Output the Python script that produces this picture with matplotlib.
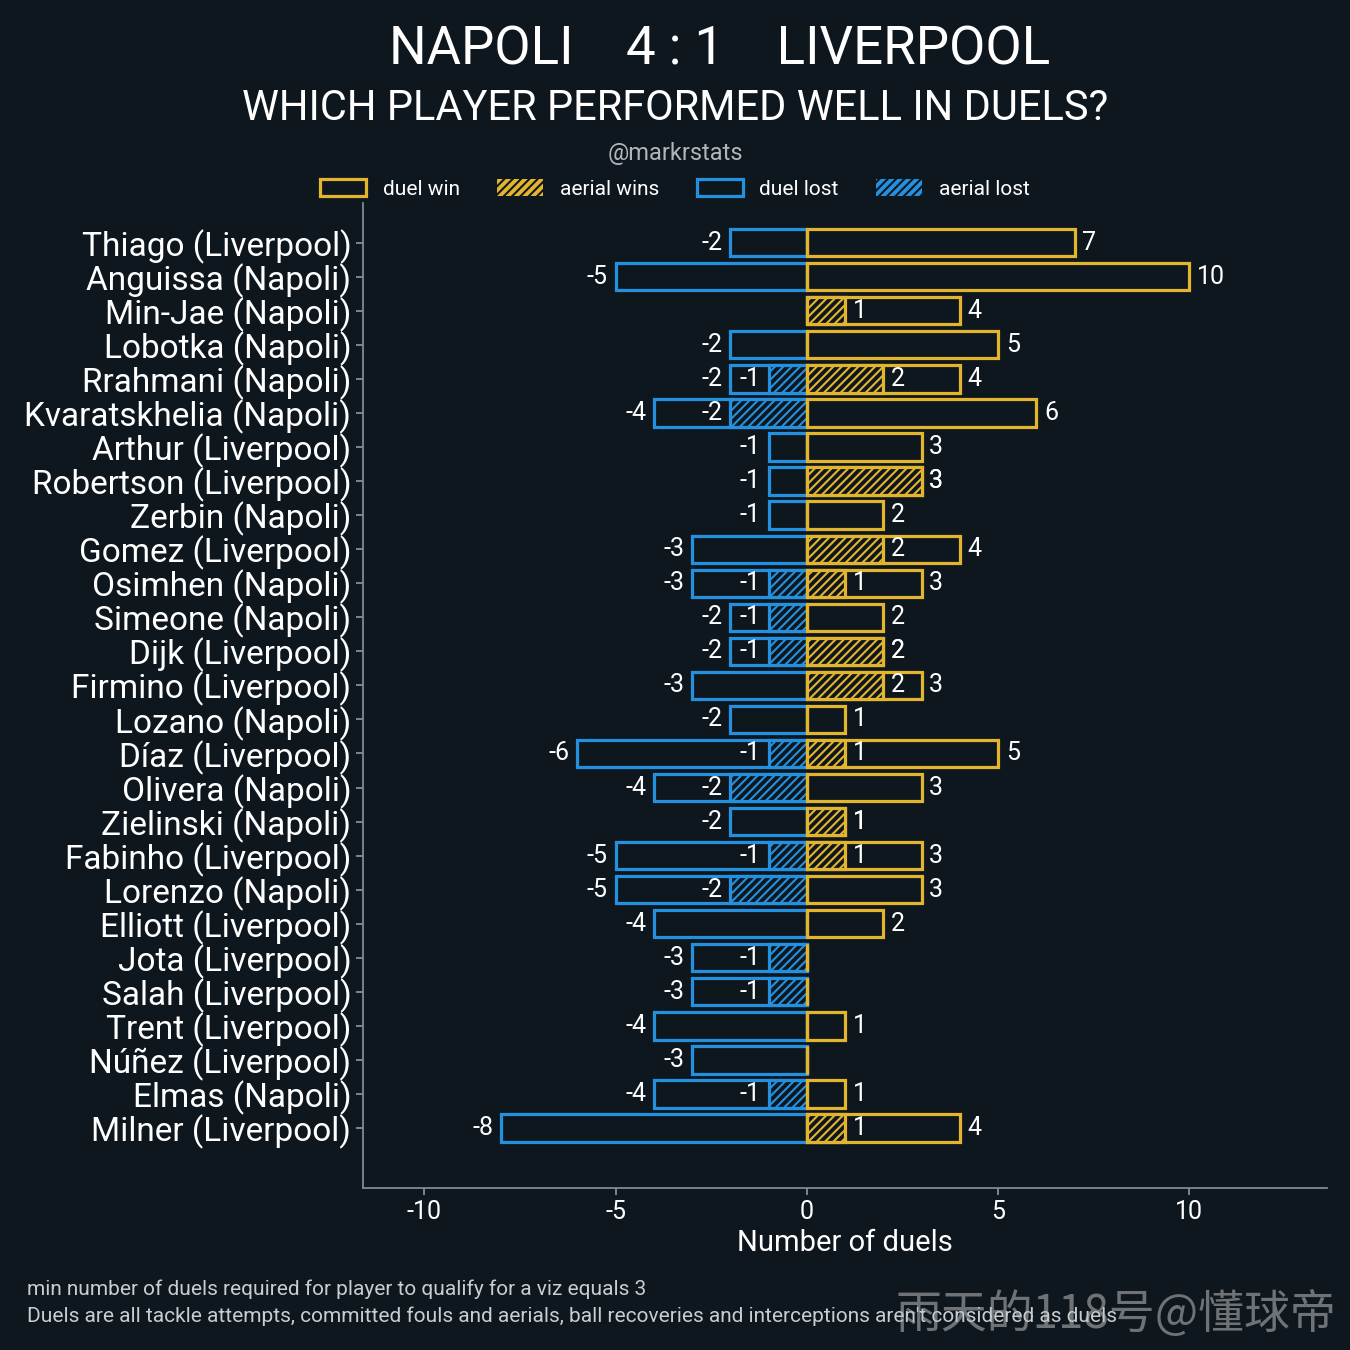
import matplotlib.pyplot as plt
from matplotlib.patches import Patch
import numpy as np

players = ['Thiago (Liverpool)', 'Anguissa (Napoli)', 'Min-Jae (Napoli)', 'Lobotka (Napoli)',
           'Rrahmani (Napoli)', 'Kvaratskhelia (Napoli)', 'Arthur (Liverpool)', 'Robertson (Liverpool)',
           'Zerbin (Napoli)', 'Gomez (Liverpool)', 'Osimhen (Napoli)', 'Simeone (Napoli)',
           'Dijk (Liverpool)', 'Firmino (Liverpool)', 'Lozano (Napoli)', 'Díaz (Liverpool)',
           'Olivera (Napoli)', 'Zielinski (Napoli)', 'Fabinho (Liverpool)', 'Lorenzo (Napoli)',
           'Elliott (Liverpool)', 'Jota (Liverpool)', 'Salah (Liverpool)', 'Trent (Liverpool)',
           'Núñez (Liverpool)', 'Elmas (Napoli)', 'Milner (Liverpool)']
duel_win = [7, 10, 4, 5, 4, 6, 3, 3, 2, 4, 3, 2, 2, 3, 1, 5, 3, 1, 3, 3, 2, 0, 0, 1, 0, 1, 4]
aerial_win = [0, 0, 1, 0, 2, 0, 0, 3, 0, 2, 1, 0, 2, 2, 0, 1, 0, 1, 1, 0, 0, 0, 0, 0, 0, 0, 1]
duel_lost = [-2, -5, 0, -2, -2, -4, -1, -1, -1, -3, -3, -2, -2, -3, -2, -6, -4, -2, -5, -5, -4, -3, -3, -4, -3, -4, -8]
aerial_lost = [0, 0, 0, 0, -1, -2, 0, 0, 0, 0, -1, -1, -1, 0, 0, -1, -2, 0, -1, -2, 0, -1, -1, 0, 0, -1, 0]
xticks = [-10, -5, 0, 5, 10]

bg = '#0f171e'
gold = '#e3b52f'
blue = '#2490e0'
plt.rcParams['font.family'] = ['Roboto', 'DejaVu Sans']
plt.rcParams['hatch.linewidth'] = 1.5

fig = plt.figure(figsize=(13.5, 13.5), dpi=100, facecolor=bg)
ax = fig.add_axes([0.269, 0.12, 0.714, 0.73], facecolor=bg)
y = np.arange(len(players))
h = 0.8
lw = 2.3

ax.barh(y, duel_lost, height=h, facecolor=bg, edgecolor=blue, linewidth=lw)
ax.barh(y, aerial_lost, height=h, facecolor=bg, edgecolor=blue, linewidth=lw, hatch='////')
ax.barh(y, duel_win, height=h, facecolor=bg, edgecolor=gold, linewidth=lw)
ax.barh(y, aerial_win, height=h, facecolor=bg, edgecolor=gold, linewidth=lw, hatch='////')

fs = 18
for i in range(len(players)):
    if duel_lost[i] != 0:
        ax.text(duel_lost[i] - 0.2, i, str(duel_lost[i]), color='white', fontsize=fs, ha='right', va='center')
    if aerial_lost[i] != 0:
        ax.text(aerial_lost[i] - 0.2, i, str(aerial_lost[i]), color='white', fontsize=fs, ha='right', va='center')
    if duel_win[i] != 0:
        ax.text(duel_win[i] + 0.2, i, str(duel_win[i]), color='white', fontsize=fs, ha='left', va='center')
    if aerial_win[i] != 0:
        ax.text(aerial_win[i] + 0.2, i, str(aerial_win[i]), color='white', fontsize=fs, ha='left', va='center')

ax.set_yticks(y)
ax.set_yticklabels(players, fontsize=24)
ax.set_ylim(27.76, -1.18)
ax.set_xlim(-11.6, 13.6)
ax.set_xticks(xticks)
ax.set_xticklabels([str(t) for t in xticks], fontsize=18)
ax.set_xlabel('Number of duels', fontsize=21, color='white')
ax.tick_params(colors='#8a9aa0', labelcolor='white', length=5, width=1.2)
for s in ['top', 'right']:
    ax.spines[s].set_visible(False)
for s in ['left', 'bottom']:
    ax.spines[s].set_color('#7d8b91')
    ax.spines[s].set_linewidth(1.3)

fig.text(0.533, 0.963, 'NAPOLI    4 : 1    LIVERPOOL', color='white', fontsize=38, ha='center', va='center')
fig.text(0.5, 0.92, 'WHICH PLAYER PERFORMED WELL IN DUELS?', color='white', fontsize=30, ha='center', va='center')
fig.text(0.5, 0.886, '@markrstats', color='#b0b6ba', fontsize=17, ha='center', va='center')

handles = [Patch(facecolor=bg, edgecolor=gold, linewidth=lw, label='duel win'),
           Patch(facecolor=gold, edgecolor=bg, linewidth=0, hatch='////', label='aerial wins'),
           Patch(facecolor=bg, edgecolor=blue, linewidth=lw, label='duel lost'),
           Patch(facecolor=blue, edgecolor=bg, linewidth=0, hatch='////', label='aerial lost')]
leg = fig.legend(handles=handles, loc='center', bbox_to_anchor=(0.5, 0.86), ncol=4, frameon=False,
                 fontsize=15, labelcolor='white', handlelength=2.2, handleheight=0.9, columnspacing=1.8)

fig.text(0.02, 0.045, 'min number of duels required for player to qualify for a viz equals 3',
         color='#c8cdd0', fontsize=15, ha='left', va='center')
fig.text(0.02, 0.025, "Duels are all tackle attempts, committed fouls and aerials, ball recoveries and interceptions aren't considered as duels",
         color='#c8cdd0', fontsize=15, ha='left', va='center')
fig.text(0.99, 0.026, '雨天的118号@懂球帝', color='#c0c0c0', alpha=0.55, fontsize=33, ha='right', va='center',
         family=['Noto Sans CJK SC', 'DejaVu Sans'])

fig.savefig('out.png', dpi=100, facecolor=bg)
